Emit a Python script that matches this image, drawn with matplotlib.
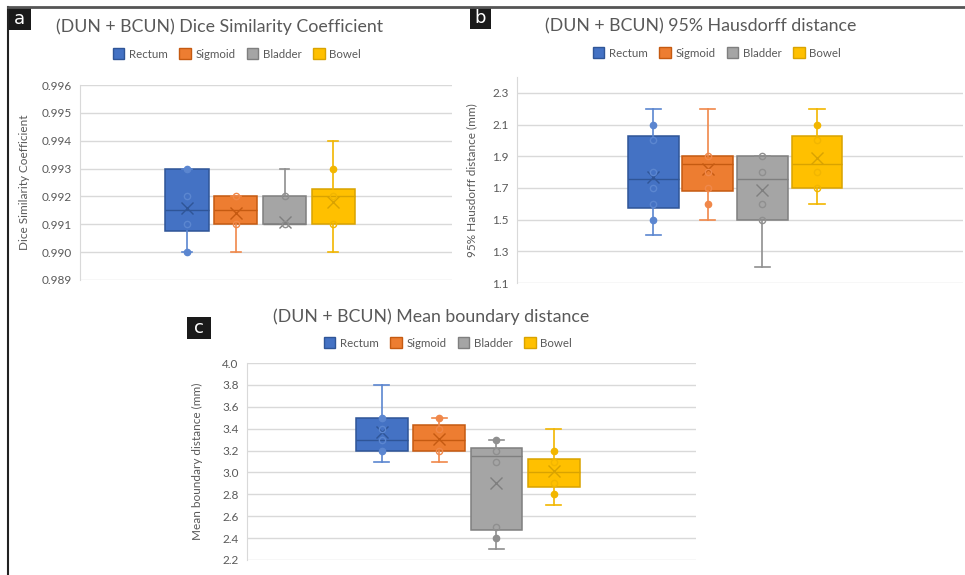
import matplotlib
matplotlib.use("Agg")
import matplotlib.pyplot as plt
from matplotlib.patches import Patch, Rectangle
from matplotlib.lines import Line2D
import numpy as np

plt.rcParams['font.family'] = ['Lato', 'DejaVu Sans']

W, H = 965, 575

series = ["Rectum", "Sigmoid", "Bladder", "Bowel"]
fill_colors = ["#4472C4", "#ED7D31", "#A5A5A5", "#FFC000"]
edge_colors = ["#2F5597", "#C55A11", "#7F7F7F", "#D9A300"]
point_colors = ["#5B86D0", "#F0884A", "#8F8F8F", "#F2B600"]
text_gray = "#595959"
grid_gray = "#D9D9D9"

# (a) Dice similarity coefficient
dsc_low = [0.9900, 0.9900, 0.9910, 0.9900]
dsc_q1 = [0.99075, 0.9910, 0.9910, 0.9910]
dsc_med = [0.9915, 0.9915, 0.9910, 0.9920]
dsc_q3 = [0.9930, 0.9920, 0.9920, 0.99225]
dsc_high = [0.9930, 0.9920, 0.9930, 0.9940]
dsc_mean = [0.9916, 0.9914, 0.9911, 0.9918]
dsc_open = [[0.992, 0.991], [0.992, 0.991], [0.992, 0.991], [0.992, 0.991]]
dsc_solid = [[0.993, 0.990], [], [], [0.993]]
dsc_ticks = [0.989, 0.990, 0.991, 0.992, 0.993, 0.994, 0.995, 0.996]

# (b) 95% Hausdorff distance
hd_low = [1.40, 1.50, 1.20, 1.60]
hd_q1 = [1.575, 1.68, 1.50, 1.70]
hd_med = [1.755, 1.85, 1.755, 1.85]
hd_q3 = [2.025, 1.90, 1.90, 2.025]
hd_high = [2.20, 2.20, 1.90, 2.20]
hd_mean = [1.77, 1.82, 1.69, 1.89]
hd_open = [[2.0, 1.8, 1.7, 1.6], [1.9, 1.8, 1.7], [1.9, 1.8, 1.6, 1.5], [2.0, 1.8, 1.7]]
hd_solid = [[2.1, 1.5], [1.6], [], [2.1]]
hd_ticks = [1.1, 1.3, 1.5, 1.7, 1.9, 2.1, 2.3]

# (c) Mean boundary distance
mbd_low = [3.10, 3.10, 2.30, 2.70]
mbd_q1 = [3.20, 3.20, 2.47, 2.87]
mbd_med = [3.30, 3.30, 3.15, 3.00]
mbd_q3 = [3.50, 3.43, 3.22, 3.12]
mbd_high = [3.80, 3.50, 3.30, 3.40]
mbd_mean = [3.37, 3.31, 2.90, 3.01]
mbd_open = [[3.4, 3.3], [3.4, 3.2], [3.2, 3.1, 2.5], [3.1, 2.9]]
mbd_solid = [[3.5, 3.2], [3.5], [3.3, 2.4], [3.2, 2.8]]
mbd_ticks = [2.2, 2.4, 2.6, 2.8, 3.0, 3.2, 3.4, 3.6, 3.8, 4.0]


def px_rect(x0, y0, x1, y1):
    return [x0 / W, 1 - y1 / H, (x1 - x0) / W, (y1 - y0) / H]


def draw_panel(ax, low, q1, med, q3, high, mean, open_pts, solid_pts,
               ticks, ylim, xlim, width, capw, fmt, ylabel, labelx):
    for i in range(len(series)):
        st = [{'whislo': low[i], 'q1': q1[i], 'med': med[i], 'q3': q3[i],
               'whishi': high[i], 'mean': mean[i], 'fliers': []}]
        ec = edge_colors[i]
        ax.bxp(st, positions=[i], widths=width, capwidths=capw,
               patch_artist=True, showmeans=True, showfliers=False,
               boxprops=dict(facecolor=fill_colors[i], edgecolor=ec, linewidth=1.1),
               medianprops=dict(color=ec, linewidth=1.0),
               whiskerprops=dict(color=point_colors[i], linewidth=1.2),
               capprops=dict(color=point_colors[i], linewidth=1.2),
               meanprops=dict(marker='x', markeredgecolor=ec, markersize=9,
                              markeredgewidth=1.0, linestyle='none'),
               manage_ticks=False, zorder=3)
        if open_pts[i]:
            ax.plot([i] * len(open_pts[i]), open_pts[i], 'o', mfc='none',
                    mec=point_colors[i], ms=4.5, mew=1.0, zorder=4)
        if solid_pts[i]:
            ax.plot([i] * len(solid_pts[i]), solid_pts[i], 'o', mfc=point_colors[i],
                    mec=point_colors[i], ms=4.5, mew=1.0, zorder=4)
    ax.set_xlim(*xlim)
    ax.set_ylim(*ylim)
    ax.set_yticks(ticks)
    ax.set_yticklabels([fmt.format(t) for t in ticks])
    ax.set_xticks([])
    ax.tick_params(axis='y', length=0, pad=6, labelsize=8.5, labelcolor=text_gray)
    ax.grid(axis='y', color=grid_gray, linewidth=1.0, zorder=0)
    ax.set_axisbelow(True)
    for s in ['top', 'right', 'bottom']:
        ax.spines[s].set_visible(False)
    ax.spines['left'].set_color(grid_gray)
    ax.set_ylabel(ylabel, fontsize=8.5, color=text_gray)
    ax.yaxis.set_label_coords(labelx, 0.5)


fig = plt.figure(figsize=(W / 100, H / 100), dpi=100)

ax_a = fig.add_axes(px_rect(80, 85, 452, 280))
draw_panel(ax_a, dsc_low, dsc_q1, dsc_med, dsc_q3, dsc_high, dsc_mean, dsc_open, dsc_solid,
           dsc_ticks, (0.989, 0.996), (-2.2, 5.44), 0.89, 0.2, "{:.3f}",
           "Dice Similarity Coefficient", -0.135)

ax_b = fig.add_axes(px_rect(517, 77, 963, 283))
draw_panel(ax_b, hd_low, hd_q1, hd_med, hd_q3, hd_high, hd_mean, hd_open, hd_solid,
           hd_ticks, (1.1, 2.4), (-2.5, 5.68), 0.93, 0.28, "{:.1f}",
           "95% Hausdorff distance (mm)", -0.09)

ax_c = fig.add_axes(px_rect(247, 363, 696, 560))
draw_panel(ax_c, mbd_low, mbd_q1, mbd_med, mbd_q3, mbd_high, mbd_mean, mbd_open, mbd_solid,
           mbd_ticks, (2.2, 4.0), (-2.35, 5.48), 0.9, 0.26, "{:.1f}",
           "Mean boundary distance (mm)", -0.098)

# titles and legends
titles = ["(DUN + BCUN) Dice Similarity Coefficient",
          "(DUN + BCUN) 95% Hausdorff distance",
          "(DUN + BCUN) Mean boundary distance"]
title_pos = [(220, 27), (701, 26), (431, 317)]
legend_pos = [(237, 54), (717, 53), (448, 343)]
handles = [Patch(facecolor=fill_colors[i], edgecolor=edge_colors[i], linewidth=1.0)
           for i in range(len(series))]
for t, (tx, ty), (lx, ly) in zip(titles, title_pos, legend_pos):
    fig.text(tx / W, 1 - ty / H, t, ha='center', va='center', fontsize=12.8, color=text_gray)
    fig.legend(handles, series, loc='center', bbox_to_anchor=(lx / W, 1 - ly / H),
               ncol=4, frameon=False, fontsize=8.3, labelcolor=text_gray,
               handlelength=1.0, handleheight=1.0, handletextpad=0.4, columnspacing=1.0)

# panel letters
for letter, (x0, y0, x1, y1) in zip(["a", "b", "c"],
                                    [(8, 7, 31, 30), (470, 7, 491, 29), (187, 317, 211, 339)]):
    r = px_rect(x0, y0, x1, y1)
    fig.add_artist(Rectangle((r[0], r[1]), r[2], r[3], transform=fig.transFigure,
                             facecolor='#1A1A1A', edgecolor='none'))
    fig.text(r[0] + r[2] / 2, r[1] + r[3] / 2, letter, ha='center', va='center',
             color='white', fontsize=13, fontfamily='DejaVu Sans')

# outer frame lines
fig.add_artist(Line2D([8 / W, 8 / W], [0, 1 - 7 / H], transform=fig.transFigure,
                      color='#222222', linewidth=1.5))
fig.add_artist(Line2D([8 / W, 1], [1 - 7 / H, 1 - 7 / H], transform=fig.transFigure,
                      color='#555555', linewidth=2.0))

fig.savefig("out.png", dpi=100)
